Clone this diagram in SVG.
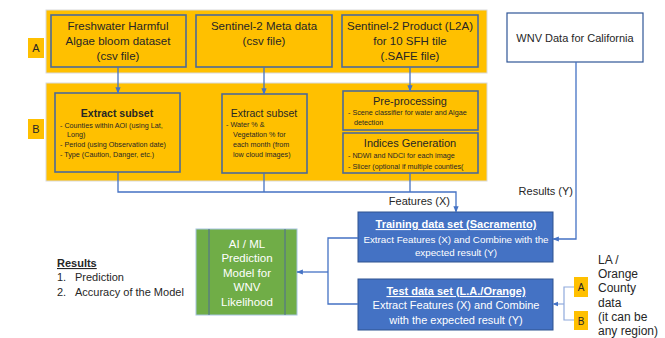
<svg xmlns="http://www.w3.org/2000/svg" width="665" height="338" viewBox="0 0 665 338">
<defs>
<style>
text{font-family:"Liberation Sans",Arial,sans-serif;fill:#262626}
.band{fill:#FFC000;stroke:#D9D9D9;stroke-width:1}
.box{fill:#FFC000;stroke:#4E6A96;stroke-width:1.6}
.lab{fill:#FFC000}
.t{font-size:11.5px;text-anchor:middle}
.s{font-size:7.2px}
.c{fill:none;stroke:#4472C4;stroke-width:1.3}
.cl{fill:none;stroke:#8FAADC;stroke-width:1.2}
.blue{fill:#4472C4;stroke:#2F528F;stroke-width:1}
.w{fill:#fff;font-size:11px;text-anchor:middle}
</style>
<marker id="ar" viewBox="0 0 10 10" refX="9" refY="5" markerWidth="5" markerHeight="5" orient="auto"><path d="M0,1 L10,5 L0,9 z" fill="#4472C4"/></marker>
</defs>
<rect width="665" height="338" fill="#fff"/>

<g id="bandA">
<rect class="band" x="46" y="10" width="441" height="63"/>
<rect class="lab" x="28" y="38" width="16" height="20"/>
<text x="36" y="52" class="t" style="font-size:11px">A</text>
</g>
<g id="bandB">
<rect class="band" x="46" y="83" width="441" height="98"/>
<rect class="lab" x="28" y="119" width="16" height="20"/>
<text x="36" y="133" class="t" style="font-size:11px">B</text>
</g>

<g id="n-freshwater">
<rect class="box" x="51" y="15" width="135" height="52"/>
<text class="t" x="118" y="30">Freshwater Harmful</text>
<text class="t" x="118" y="45">Algae bloom dataset</text>
<text class="t" x="118" y="60">(csv file)</text>
</g>
<g id="n-meta">
<rect class="box" x="196" y="15" width="136" height="52"/>
<text class="t" x="264" y="30">Sentinel-2 Meta data</text>
<text class="t" x="264" y="45">(csv file)</text>
</g>
<g id="n-product">
<rect class="box" x="342" y="15" width="136" height="52"/>
<text class="t" x="410" y="30">Sentinel-2 Product (L2A)</text>
<text class="t" x="410" y="45">for 10 SFH tile</text>
<text class="t" x="410" y="60">(.SAFE file)</text>
</g>
<g id="n-wnv">
<rect x="507" y="13" width="136" height="49" fill="#fff" stroke="#2F5597" stroke-width="1.2"/>
<text class="t" x="575" y="42" style="font-size:11px">WNV Data for California</text>
</g>

<g id="n-extract1">
<rect class="box" x="55" y="93" width="125" height="79"/>
<text class="t" x="117" y="117" style="font-weight:bold;font-size:10.5px">Extract subset</text>
<text class="s" x="60" y="128">-  Counties within AOI (using Lat,</text>
<text class="s" x="67" y="137">Long)</text>
<text class="s" x="60" y="147">-  Period (using Observation date)</text>
<text class="s" x="60" y="157">-  Type (Caution, Danger, etc.)</text>
</g>
<g id="n-extract2">
<rect class="box" x="222" y="94" width="85" height="79"/>
<text class="t" x="264" y="117" style="font-size:10.5px">Extract subset</text>
<text class="s" x="226" y="127">-  Water % &amp;</text>
<text class="s" x="233" y="137">Vegetation % for</text>
<text class="s" x="233" y="147">each month (from</text>
<text class="s" x="233" y="157">low cloud images)</text>
</g>
<g id="n-preproc">
<rect class="box" x="343" y="91" width="135" height="39"/>
<text class="t" x="410" y="105" style="font-size:11px">Pre-processing</text>
<text class="s" x="348" y="115">-  Scene classifier for water and Algae</text>
<text class="s" x="354" y="125">detection</text>
</g>
<g id="n-indices">
<rect class="box" x="343" y="133" width="135" height="40"/>
<text class="t" x="410" y="147" style="font-size:11px">Indices Generation</text>
<text class="s" x="348" y="158">-  NDWI and NDCI for each image</text>
<text class="s" x="348" y="169">-  Slicer (optional if multiple counties(</text>
</g>

<g id="n-training">
<rect class="blue" x="358" y="212" width="195" height="50"/>
<text class="w" x="456" y="228" style="font-weight:bold;text-decoration:underline">Training data set (Sacramento)</text>
<text class="w" x="456" y="243" style="font-size:9.8px">Extract Features (X) and Combine with the</text>
<text class="w" x="456" y="256" style="font-size:9.8px">expected result (Y)</text>
</g>
<g id="n-test">
<rect class="blue" x="358" y="279" width="195" height="51"/>
<text class="w" x="456" y="295" style="font-weight:bold;text-decoration:underline">Test data set (L.A./Orange)</text>
<text class="w" x="456" y="309">Extract Features (X) and Combine</text>
<text class="w" x="456" y="324">with the expected result (Y)</text>
</g>

<g id="n-model">
<rect x="196" y="229" width="101" height="86" fill="#70AD47" stroke="#A5C3E0" stroke-width="1"/>
<line x1="209" y1="229" x2="209" y2="315" stroke="#4E6A96" stroke-width="1"/>
<line x1="285" y1="229" x2="285" y2="315" stroke="#4E6A96" stroke-width="1"/>
<text class="w" x="247" y="248" style="font-size:11.5px">AI / ML</text>
<text class="w" x="247" y="262" style="font-size:11.5px">Prediction</text>
<text class="w" x="247" y="277" style="font-size:11.5px">Model for</text>
<text class="w" x="247" y="291" style="font-size:11.5px">WNV</text>
<text class="w" x="247" y="306" style="font-size:11.5px">Likelihood</text>
</g>

<g id="n-results">
<text x="57" y="267" style="font-size:11px;font-weight:bold;text-decoration:underline">Results</text>
<text x="57" y="281" style="font-size:11px">1.</text>
<text x="75" y="281" style="font-size:11px">Prediction</text>
<text x="57" y="296" style="font-size:11px">2.</text>
<text x="75" y="296" style="font-size:11px">Accuracy of the Model</text>
</g>

<g id="n-laorange">
<rect class="lab" x="574" y="277" width="14" height="20"/>
<text class="t" x="581" y="291" style="font-size:10px">A</text>
<rect class="lab" x="574" y="311" width="14" height="19"/>
<text class="t" x="581" y="325" style="font-size:10px">B</text>
<text x="598" y="264" style="font-size:12px">LA /</text>
<text x="598" y="278" style="font-size:12px">Orange</text>
<text x="598" y="292" style="font-size:12px">County</text>
<text x="598" y="307" style="font-size:12px">data</text>
<text x="598" y="321" style="font-size:12px">(it can be</text>
<text x="598" y="335" style="font-size:12px">any region)</text>
</g>

<g id="connectors">
<path class="c" d="M118,67 V93" marker-end="url(#ar)"/>
<path class="c" d="M264,67 V94" marker-end="url(#ar)"/>
<path class="c" d="M410,67 V91" marker-end="url(#ar)"/>
<path class="c" d="M118,172 V192 H456 V212" marker-end="url(#ar)"/>
<path class="c" d="M264,173 V192"/>
<path class="c" d="M410,173 V192"/>
<path class="c" d="M576,62 V239 H553" marker-end="url(#ar)"/>
<path class="c" d="M358,238 H328 V304 H358"/>
<path class="c" d="M328,272 H297" marker-end="url(#ar)"/>
<path class="cl" d="M574,287 H564 V320 H574"/>
<path class="cl" d="M564,304 H553" marker-end="url(#ar)"/>
<text x="450" y="205" style="font-size:11px;text-anchor:end">Features (X)</text>
<text x="573" y="195" style="font-size:11px;text-anchor:end">Results (Y)</text>
</g>
</svg>
